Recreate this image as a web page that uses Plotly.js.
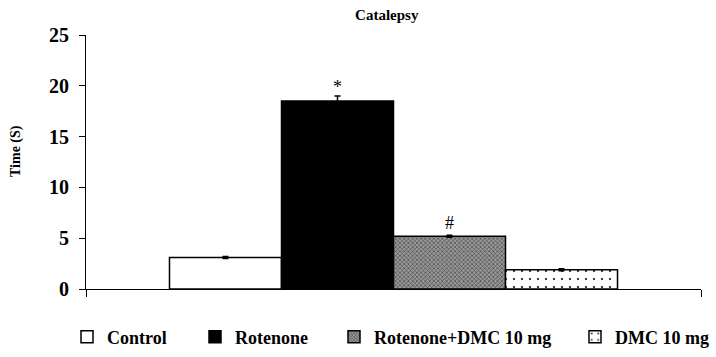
<!DOCTYPE html>
<html>
<head>
<meta charset="utf-8">
<script src="https://cdn.plot.ly/plotly-3.0.1.min.js"></script>
<style>
  html, body { margin: 0; padding: 0; background: #fff; }
  #chart { width: 716px; height: 357px; }
</style>
</head>
<body>
<div id="chart"></div>
<script>
// ---- data ----
const groups = ['Control', 'Rotenone', 'Rotenone+DMC 10 mg', 'DMC 10 mg'];
const values = [3.1, 18.5, 5.2, 1.9];
const errors = [0.1, 0.5, 0.1, 0.1];
const signif = ['', '*', '#', ''];
const category = ['Catalepsy'];
const yTicks = [0, 5, 10, 15, 20, 25];
const yTitle = 'Time (S)';
const chartTitle = 'Catalepsy';

// ---- styles ----
const serif = '"Liberation Serif", "Times New Roman", serif';
const fills = [
  { color: '#ffffff', pattern: { shape: '' } },
  { color: '#000000', pattern: { shape: '' } },
  { color: '#8c8c8c', pattern: { shape: 'x', size: 3, solidity: 0.4, fgcolor: '#4a4a4a', bgcolor: '#999999', fillmode: 'replace' } },
  { color: '#ffffff', pattern: { shape: '.', size: 8, solidity: 0.05, fgcolor: '#000000', bgcolor: '#ffffff', fillmode: 'replace' } }
];
const legendNames = ['legend', 'legend2', 'legend3', 'legend4'];
const legendLeftPx = [67, 195, 334, 575];
const sigShift = [0, -3, 0, 0];

const bargap = 0.2715;
const traces = groups.map((g, i) => ({
  type: 'bar',
  name: g,
  x: category,
  y: [values[i]],
  legend: legendNames[i],
  marker: {
    color: fills[i].color,
    pattern: fills[i].pattern,
    line: { color: '#000000', width: 1.5 }
  },
  error_y: { type: 'data', array: [errors[i]], visible: true, color: '#000000', thickness: 1.5, width: 3 },
  hoverinfo: 'skip'
}));

const barW = (1 - bargap) / groups.length;
const annotations = [];
signif.forEach((s, i) => {
  if (!s) return;
  annotations.push({
    xref: 'x', yref: 'y',
    x: (i - (groups.length - 1) / 2) * barW,
    y: values[i] + errors[i],
    text: s, showarrow: false,
    yanchor: 'bottom', yshift: sigShift[i],
    font: { family: serif, size: 18, color: '#000' }
  });
});
// y-axis title placed as a rotated annotation (centred a little above the plot middle, as in the source)
annotations.push({
  xref: 'paper', yref: 'paper',
  x: (16 - 86) / 615, y: (289 - 151) / 254,
  xanchor: 'center', yanchor: 'middle',
  text: yTitle, textangle: -90, showarrow: false,
  font: { family: serif, size: 14, color: '#000', weight: 'bold' }
});

const layout = {
  width: 716, height: 357,
  margin: { l: 86, r: 15, t: 35, b: 68, autoexpand: false },
  paper_bgcolor: '#ffffff', plot_bgcolor: '#ffffff',
  barmode: 'group', bargap: bargap, bargroupgap: 0,
  showlegend: true,
  title: {
    text: chartTitle, x: 0.489, xref: 'paper', xanchor: 'center',
    y: 0.958, yref: 'container', yanchor: 'middle',
    font: { family: serif, size: 15, color: '#000', weight: 'bold' }
  },
  xaxis: {
    type: 'category', showticklabels: false, showgrid: false, zeroline: false,
    showline: true, linecolor: '#000', linewidth: 1,
    ticks: 'outside', tickson: 'boundaries', ticklen: 7, tickcolor: '#000', tickwidth: 1,
    fixedrange: true
  },
  yaxis: {
    range: [0, 25], tickvals: yTicks, ticktext: yTicks.map(String),
    showgrid: false, zeroline: false,
    showline: true, linecolor: '#000', linewidth: 1,
    ticks: 'outside', ticklen: 6, tickcolor: '#000', tickwidth: 1,
    ticklabelstandoff: 6,
    tickfont: { family: serif, size: 20, color: '#000', weight: 'bold' },
    automargin: false, fixedrange: true
  },
  annotations: annotations
};
legendNames.forEach((ln, i) => {
  layout[ln] = {
    x: legendLeftPx[i] / 716, xref: 'container', xanchor: 'left',
    y: 1 - 337 / 357, yref: 'container', yanchor: 'middle',
    orientation: 'h', bgcolor: 'rgba(0,0,0,0)', borderwidth: 0,
    font: { family: serif, size: 18, color: '#000', weight: 'bold' }
  };
});

Plotly.newPlot('chart', traces, layout, { displayModeBar: false, staticPlot: true });
</script>
</body>
</html>
